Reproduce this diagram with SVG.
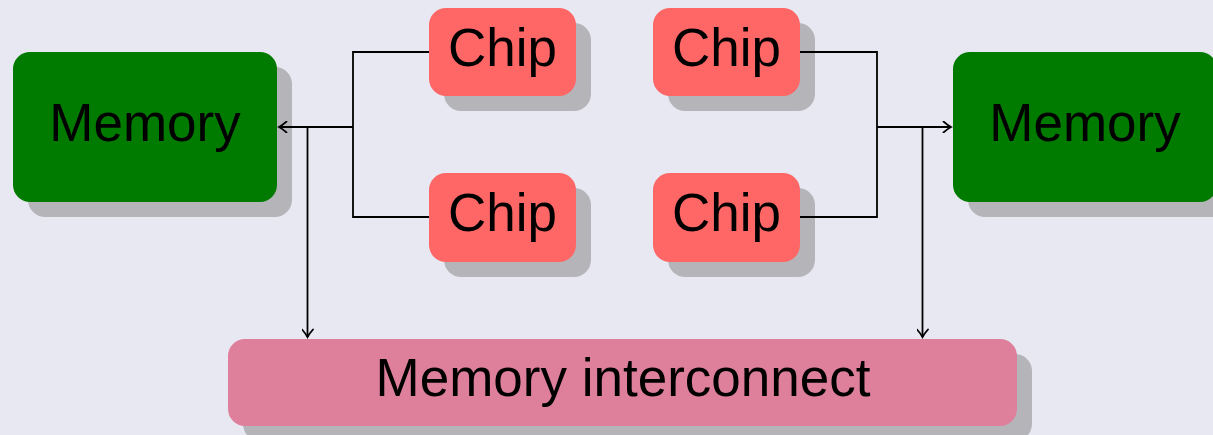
<svg xmlns="http://www.w3.org/2000/svg" width="1213" height="435" viewBox="0 0 1213 435">
  <style>
    .shadow { fill: #b5b4b9; }
    .mem { fill: #007b00; }
    .chip { fill: #ff6666; }
    .ic { fill: #de7f9c; }
    .label { font-family: "Liberation Sans", Arial, sans-serif; font-size: 53px; fill: #000; text-anchor: middle; }
    .wire { fill: none; stroke: #000; stroke-width: 1.8; }
  </style>
  <defs>
    <marker id="arrow" viewBox="-9 -6 11 12" markerWidth="11" markerHeight="12" refX="0" refY="0" orient="auto" markerUnits="userSpaceOnUse">
      <path d="M -7.5 -5.5 Q -3 -1.5 0 0 Q -3 1.5 -7.5 5.5" fill="none" stroke="#000" stroke-width="1.8" stroke-linecap="round"/>
    </marker>
  </defs>
  <rect width="1213" height="435" fill="#e8e8f2"/>

  <!-- left memory -->
  <g id="memory-left">
    <rect class="shadow" x="28" y="67" width="264" height="150" rx="17"/>
    <rect class="mem" x="13" y="52" width="264" height="150" rx="17"/>
    <text class="label" x="145" y="141">Memory</text>
  </g>

  <!-- right memory -->
  <g id="memory-right">
    <rect class="shadow" x="968" y="67" width="264" height="150" rx="17"/>
    <rect class="mem" x="953" y="52" width="264" height="150" rx="17"/>
    <text class="label" x="1085" y="141">Memory</text>
  </g>

  <!-- chips -->
  <g id="chip-tl">
    <rect class="shadow" x="444" y="23" width="147" height="88" rx="17"/>
    <rect class="chip" x="429" y="8" width="147" height="88" rx="17"/>
    <text class="label" x="502.5" y="66">Chip</text>
  </g>
  <g id="chip-tr">
    <rect class="shadow" x="668" y="23" width="147" height="88" rx="17"/>
    <rect class="chip" x="653" y="8" width="147" height="88" rx="17"/>
    <text class="label" x="726.5" y="66">Chip</text>
  </g>
  <g id="chip-bl">
    <rect class="shadow" x="444" y="188" width="147" height="89" rx="17"/>
    <rect class="chip" x="429" y="173" width="147" height="89" rx="17"/>
    <text class="label" x="502.5" y="231">Chip</text>
  </g>
  <g id="chip-br">
    <rect class="shadow" x="668" y="188" width="147" height="89" rx="17"/>
    <rect class="chip" x="653" y="173" width="147" height="89" rx="17"/>
    <text class="label" x="726.5" y="231">Chip</text>
  </g>

  <!-- interconnect -->
  <g id="interconnect">
    <rect class="shadow" x="243" y="354" width="789" height="87" rx="17"/>
    <rect class="ic" x="228" y="339" width="789" height="87" rx="17"/>
    <text class="label" x="623" y="396" font-size="54">Memory interconnect</text>
  </g>

  <!-- connectors -->
  <g id="connectors">
    <path class="wire" d="M 429 52 H 353 V 217 H 429"/>
    <path class="wire" d="M 353 127 H 279" marker-end="url(#arrow)"/>
    <path class="wire" d="M 307.5 127 V 337" marker-end="url(#arrow)"/>
    <path class="wire" d="M 800 52 H 877 V 217 H 800"/>
    <path class="wire" d="M 877 127 H 951" marker-end="url(#arrow)"/>
    <path class="wire" d="M 922.5 127 V 337" marker-end="url(#arrow)"/>
  </g>
</svg>
